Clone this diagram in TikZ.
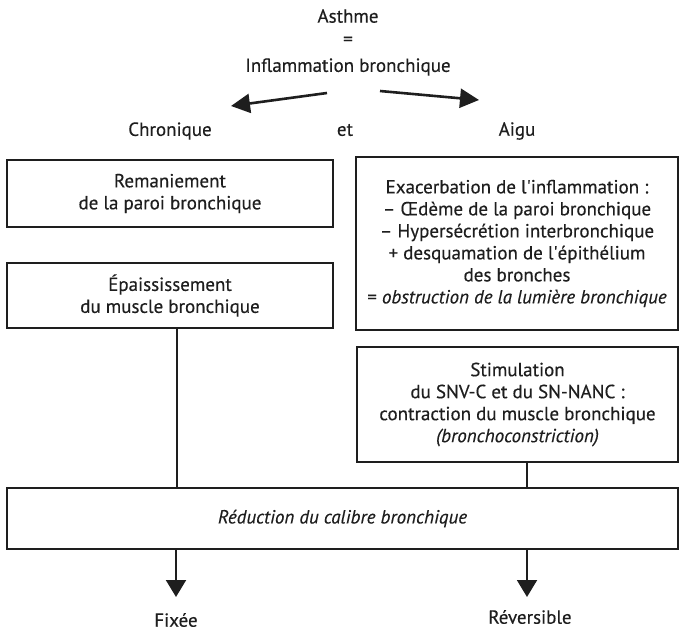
\documentclass[tikz,border=0pt]{standalone}
\usepackage{fontspec}
\setmainfont[FakeBold=0.35]{PT Sans}
\usetikzlibrary{arrows.meta}
\definecolor{ink}{HTML}{1E1E1E}
\newcommand{\apos}{\textquotesingle}
\tikzset{
  txt/.style={font=\fontsize{19}{22}\selectfont, text=ink, inner sep=0pt, align=center},
  box/.style={txt, draw=ink, line width=2.2pt, inner sep=0pt},
  link/.style={draw=ink, line width=2pt},
  bigarrow/.style={link, line width=2.6pt, -{Triangle[length=19pt,width=19pt]}},
  downarrow/.style={link, -{Triangle[length=17pt,width=20pt]}}
}
\begin{document}
\begin{tikzpicture}[x=1pt,y=-1pt]
\useasboundingbox (0,0) rectangle (680,631);

% title
\node[txt] (asthme) at (348,16) {Asthme};
\node[txt] (eq) at (348,41) {=};
\node[txt] (infl) at (348,67) {Inflammation bronchique};

% branches
\coordinate (aL0) at (327,93);
\coordinate (aL1) at (231,106);
\coordinate (aR0) at (380,91);
\coordinate (aR1) at (479,100);
\draw[bigarrow] (aL0) -- (aL1);
\draw[bigarrow] (aR0) -- (aR1);

\node[txt] (chron) at (170,131) {Chronique};
\node[txt] (et) at (345,130) {et};
\node[txt] (aigu) at (517,131) {Aigu};

% left column
\node[box, minimum width=326pt, minimum height=67pt] (rem) at (170,193.5)
  {Remaniement\\de la paroi bronchique};
\node[box, minimum width=326pt, minimum height=65pt] (epa) at (170,295.5)
  {Épaississement\\du muscle bronchique};

% right column
\node[box, minimum width=322pt, minimum height=173pt] (exa) at (517,243.5)
  {Exacerbation de l\apos inflammation :\\
   – Œdème de la paroi bronchique\\
   – Hypersécrétion interbronchique\\
   + desquamation de l\apos épithélium\\
   des bronches\\
   = \textit{obstruction de la lumière bronchique}};
\node[box, minimum width=321pt, minimum height=115pt] (stim) at (517.5,404.5)
  {Stimulation\\du SNV-C et du SN-NANC :\\contraction du muscle bronchique\\\textit{(bronchoconstriction)}};

% common outcome
\node[box, minimum width=671pt, minimum height=61pt] (red) at (342.5,518.5)
  {\textit{Réduction du calibre bronchique}};

\draw[link] ([xshift=7pt]epa.south) -- ([xshift=7pt]epa.south |- red.north);
\draw[link] ([xshift=9.5pt]stim.south) -- ([xshift=9.5pt]stim.south |- red.north);

% outcomes
\node[txt] (fix) at (176,620) {Fixée};
\node[txt] (rev) at (530,617) {Réversible};
\coordinate (tipL) at (176,597);
\coordinate (tipR) at (527,597);
\draw[downarrow] (tipL |- red.south) -- (tipL);
\draw[downarrow] (tipR |- red.south) -- (tipR);
\end{tikzpicture}
\end{document}
